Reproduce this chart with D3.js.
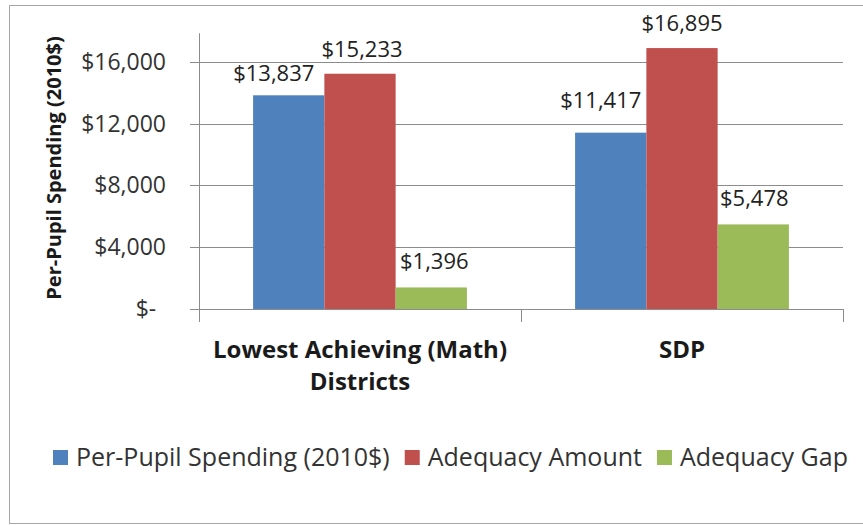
<!DOCTYPE html>
<html>
<head>
<meta charset="utf-8">
<script src="https://cdn.jsdelivr.net/npm/d3@7"></script>
<style>
    body { margin: 0; background: #fff; }
    text { font-family: "Open Sans", "Noto Sans", sans-serif; }
</style>
</head>
<body>
<div id="chart"></div>
<script>
// Chart data
const categories = ["Lowest Achieving (Math) Districts", "SDP"];
const categoryLines = [["Lowest Achieving (Math)", "Districts"], ["SDP"]];
const seriesNames = ["Per-Pupil Spending (2010$)", "Adequacy Amount", "Adequacy Gap"];
const perPupilSpending = [13837, 11417];
const adequacyAmount = [15233, 16895];
const adequacyGap = [1396, 5478];
const yTicks = [0, 4000, 8000, 12000, 16000];
const yTickLabels = ["$-\u00A0\u2009", "$4,000", "$8,000", "$12,000", "$16,000"];
const yLabel = "Per-Pupil Spending (2010$)";

const colors = ["#4F81BD", "#C0504D", "#9BBB59"];
const seriesValues = [perPupilSpending, adequacyAmount, adequacyGap];

// hand-placed data label nudges (per series, per category), like the original
const labelDx = [[-15, -10], [2, 0], [3, 1]];
const labelLift = [[14, 25], [17, 17], [18, 18]];

const width = 863, height = 525;
const plot = { left: 199, right: 843, top: 31, bottom: 309 };

const svg = d3.select("#chart").append("svg")
    .attr("width", width)
    .attr("height", height);

// outer chart border
svg.append("rect")
    .attr("x", 9.5).attr("y", 5.5)
    .attr("width", width + 10).attr("height", 518)
    .attr("fill", "none")
    .attr("stroke", "#a6a6a6");

// scales
const y = d3.scaleLinear().domain([0, 18000]).range([plot.bottom, plot.top]);
const x0 = d3.scaleBand().domain(categories)
    .range([plot.left, plot.right])
    .paddingInner(0.336).paddingOuter(0.168);
const x1 = d3.scaleBand().domain(seriesNames).range([0, x0.bandwidth()]);

// gridlines + y ticks
svg.append("g").selectAll("line")
    .data(yTicks)
    .join("line")
    .attr("x1", plot.left - 9).attr("x2", plot.right)
    .attr("y1", d => Math.round(y(d)) + 0.5)
    .attr("y2", d => Math.round(y(d)) + 0.5)
    .attr("stroke", "#8c8c8c");

svg.append("g").selectAll("text")
    .data(yTicks)
    .join("text")
    .attr("x", 166)
    .attr("y", d => y(d))
    .attr("dy", "0.35em")
    .attr("text-anchor", "end")
    .attr("fill", "#333")
    .style("font-size", "23px")
    .text((d, i) => yTickLabels[i]);

// y axis line
svg.append("line")
    .attr("x1", plot.left + 0.5).attr("x2", plot.left + 0.5)
    .attr("y1", y(17850)).attr("y2", plot.bottom + 13)
    .attr("stroke", "#8c8c8c");

// category tick marks at band boundaries
const boundaries = [(x0(categories[0]) + x0.bandwidth() + x0(categories[1])) / 2, plot.right];
svg.append("g").selectAll("line")
    .data(boundaries)
    .join("line")
    .attr("x1", d => Math.round(d) + 0.5).attr("x2", d => Math.round(d) + 0.5)
    .attr("y1", plot.bottom).attr("y2", plot.bottom + 13)
    .attr("stroke", "#8c8c8c");

// bars
const groups = svg.append("g").selectAll("g")
    .data(categories)
    .join("g")
    .attr("transform", d => `translate(${x0(d)},0)`);

groups.selectAll("rect")
    .data((c, ci) => seriesNames.map((s, si) => ({ s, v: seriesValues[si][ci], i: si })))
    .join("rect")
    .attr("x", d => x1(d.s))
    .attr("y", d => y(d.v))
    .attr("width", x1.bandwidth())
    .attr("height", d => y(0) - y(d.v))
    .attr("fill", d => colors[d.i]);

groups.selectAll("text")
    .data((c, ci) => seriesNames.map((s, si) => ({ s, v: seriesValues[si][ci], si, ci })))
    .join("text")
    .attr("x", d => x1(d.s) + x1.bandwidth() / 2 + labelDx[d.si][d.ci])
    .attr("y", d => y(d.v) - labelLift[d.si][d.ci])
    .attr("text-anchor", "middle")
    .attr("fill", "#222")
    .style("font-size", "22px")
    .text(d => d3.format("$,")(d.v));

// category labels
const catLabels = svg.append("g").selectAll("text")
    .data(categories)
    .join("text")
    .attr("x", d => x0(d) + x0.bandwidth() / 2)
    .attr("y", 358)
    .attr("text-anchor", "middle")
    .attr("fill", "#1a1a1a")
    .style("font-size", "24px")
    .style("font-weight", "bold");

catLabels.selectAll("tspan")
    .data((d, i) => categoryLines[i])
    .join("tspan")
    .attr("x", function () { return this.parentNode.getAttribute("x"); })
    .attr("dy", (d, i) => i === 0 ? 0 : 32)
    .text(d => d);

// y axis label
svg.append("text")
    .attr("transform", "rotate(-90)")
    .attr("x", -168)
    .attr("y", 61)
    .attr("text-anchor", "middle")
    .attr("fill", "#1a1a1a")
    .style("font-size", "20px")
    .style("font-weight", "bold")
    .text(yLabel);

// legend
const legend = svg.append("g");
let lx = 53;
seriesNames.forEach((name, i) => {
    legend.append("rect")
        .attr("x", lx).attr("y", 450)
        .attr("width", 15).attr("height", 15)
        .attr("fill", colors[i]);
    const t = legend.append("text")
        .attr("x", lx + 23)
        .attr("y", 466)
        .attr("fill", "#333")
        .style("font-size", "25px")
        .text(name);
    lx += 23 + t.node().getComputedTextLength() + 15;
});
</script>
</body>
</html>
